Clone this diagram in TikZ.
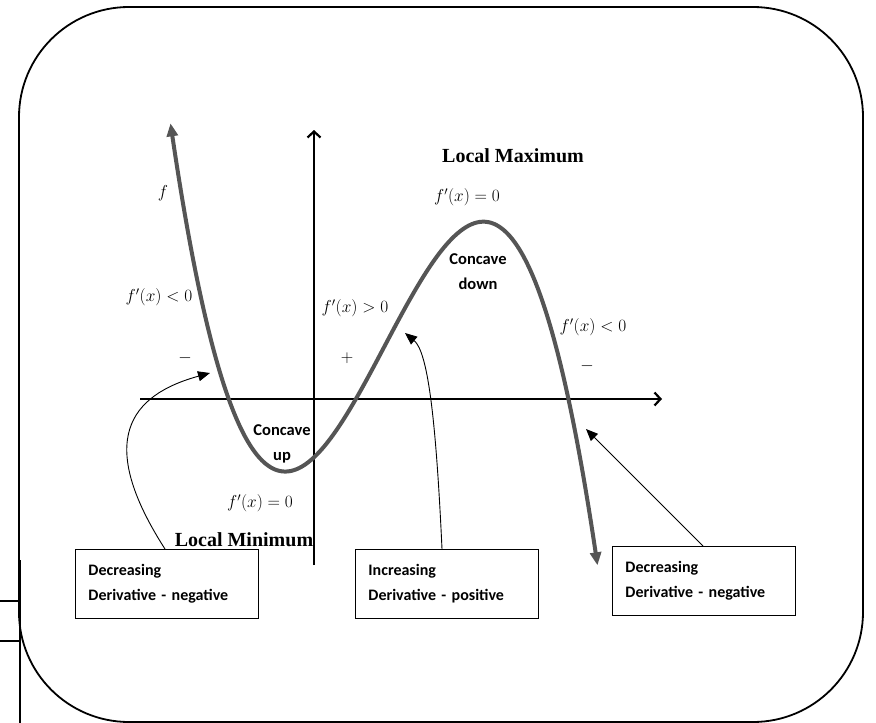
\documentclass[tikz,border=0pt]{standalone}
\usepackage{fontspec}
\setmainfont{Liberation Serif}
\newfontfamily\calfont{Carlito}
\usetikzlibrary{arrows.meta}
\definecolor{curvegray}{RGB}{85,85,85}
\tikzset{
  frame/.style={line width=1.8pt, rounded corners=110pt},
  axis/.style={line width=2.2pt, -{Straight Barb[length=6pt,width=13pt,line width=2.2pt]}},
  curve/.style={line width=4pt, curvegray, {Triangle[length=13pt,width=11pt]}-{Triangle[length=13pt,width=11pt]}},
  callout/.style={line width=0.9pt, -{Triangle[length=12pt,width=10pt]}},
  infobox/.style={draw, line width=0.9pt, anchor=north west, minimum width=183pt, minimum height=69pt,
    text width=157pt, inner xsep=13pt, inner ysep=0pt, align=left,
    font=\calfont\bfseries\fontsize{16}{25}\selectfont},
  mathlbl/.style={font=\fontsize{17.5}{20}\selectfont, inner sep=0pt},
  calbl/.style={font=\calfont\bfseries\fontsize{16.5}{25}\selectfont, align=center, inner sep=0pt},
  extreme/.style={font=\bfseries\fontsize{20}{24}\selectfont, inner sep=0pt},
  artifact/.style={line width=1.6pt}
}
\begin{document}
\begin{tikzpicture}[x=1pt,y=-1pt]
\useasboundingbox (0,0) rectangle (876,723);
% frame
\draw[frame] (19,7) rectangle (863,722);
% artifacts at left
\draw[artifact] (0,601) -- (20,601);
\draw[artifact] (0,641) -- (20,641);
\draw[artifact] (20,560) -- (20,723);
% axes
\coordinate (xs) at (140,399);
\coordinate (xe) at (662,399);
\coordinate (ys) at (314,565);
\coordinate (ye) at (314,130);
\draw[axis] (xs) -- (xe);
\draw[axis] (ys) -- (ye);
% function curve (cubic)
\draw[curve] plot[domain=170.5:597.5, samples=150, smooth]
  (\x, {397 + 64.2*(\x/100-2.28)*(\x/100-3.57)*(\x/100-5.68)});
% labels
\node[mathlbl] (f) at (163,193) {$f$};
\node[mathlbl] (fl) at (159,297) {$f'(x) < 0$};
\node[mathlbl] (ml) at (185,358) {$-$};
\node[mathlbl] (fm) at (355,308) {$f'(x) > 0$};
\node[mathlbl] (pl) at (347,358) {$+$};
\node[extreme] (lmax) at (513,156) {Local Maximum};
\node[mathlbl] (fmax) at (467,197) {$f'(x) = 0$};
\node[calbl] (cd) at (478,272) {Concave\\down};
\node[mathlbl] (fr) at (593,327) {$f'(x) < 0$};
\node[mathlbl] (mr) at (587,366) {$-$};
\node[calbl] (cu) at (282,444) {Concave\\up};
\node[mathlbl] (fmin) at (260,503) {$f'(x) = 0$};
\node[extreme] (lmin) at (244,540) {Local Minimum};
% boxes
\node[infobox] (b1) at (75,549) {Decreasing\\Derivative - negative};
\node[infobox] (b2) at (355,549) {Increasing\\Derivative - positive};
\node[infobox] (b3) at (612,546) {Decreasing\\Derivative - negative};
% callouts
\coordinate (t1) at (210,373);
\coordinate (t2) at (405,333);
\coordinate (t3) at (586,429);
\draw[callout] (b1.north west) ++(90,0) .. controls (95,440) and (130,395) .. (t1);
\draw[callout] (b2.north west) ++(87,0) .. controls (436,420) and (428,352) .. (t2);
\draw[callout] (b3.north west) ++(91,0) -- (t3);
\end{tikzpicture}
\end{document}
